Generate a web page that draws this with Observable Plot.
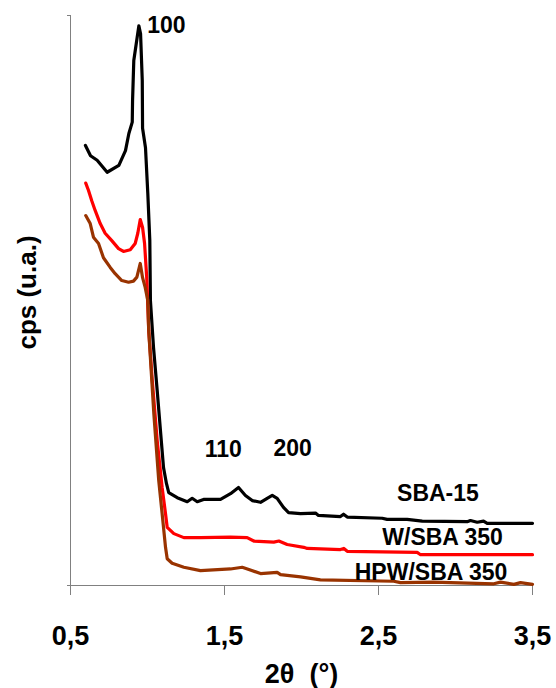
<!DOCTYPE html>
<html>
<head>
<meta charset="utf-8">
<script src="https://cdn.jsdelivr.net/npm/d3@7"></script>
<script src="https://cdn.jsdelivr.net/npm/@observablehq/plot@0.6"></script>
<style>
  html, body { margin: 0; padding: 0; background: #fff; }
  #chart { width: 556px; height: 688px; }
</style>
</head>
<body>
<div id="chart"></div>
<script>
// ---- Data ----
const seriesNames = ["SBA-15", "W/SBA 350", "HPW/SBA 350"];

const sbaX = [0.597,0.630,0.673,0.738,0.814,0.857,0.879,0.901,0.903,0.911,0.933,0.944,0.955,0.966,0.968,0.987,1.002,1.015,1.019,1.039,1.063,1.084,1.104,1.123,1.138,1.193,1.258,1.290,1.323,1.364,1.474,1.539,1.591,1.636,1.680,1.734,1.777,1.810,1.842,1.883,1.916,1.994,2.091,2.110,2.253,2.273,2.297,2.524,2.556,2.686,2.784,3.076,3.097,3.141,3.182,3.206,3.500];
const sbaY = [77.2,75.4,74.6,72.5,73.7,76.3,79.3,81.3,85.1,92.1,96.2,98.2,96.8,88.6,80.2,76.8,68.8,60.5,50.0,41.8,34.2,27.2,20.7,17.9,16.3,15.4,14.7,15.3,14.7,15.1,15.1,16.1,17.2,15.8,14.9,14.6,15.3,15.8,15.3,13.7,12.8,12.6,12.7,12.3,12.1,12.5,12.0,11.8,11.6,11.6,11.3,11.2,11.4,11.1,11.3,10.9,10.9];

const wX = [0.599,0.617,0.638,0.660,0.693,0.725,0.768,0.812,0.844,0.888,0.920,0.937,0.953,0.968,0.981,0.995,1.008,1.031,1.063,1.095,1.117,1.128,1.171,1.236,1.344,1.539,1.647,1.690,1.820,1.853,1.907,2.015,2.037,2.253,2.275,2.297,2.751,2.773,3.500];
const wY = [70.6,69.3,67.5,65.8,63.5,61.8,60.5,59.1,58.6,58.9,60.0,61.8,64.2,62.8,60.0,54.0,44.7,36.0,25.4,17.2,12.6,10.2,9.1,8.4,8.4,8.5,8.4,7.8,7.6,7.8,7.2,6.7,6.5,6.3,6.5,6.0,5.8,5.4,5.4];

const hpwX = [0.599,0.628,0.649,0.682,0.714,0.758,0.790,0.833,0.877,0.909,0.931,0.953,0.968,0.985,1.002,1.008,1.041,1.073,1.095,1.117,1.128,1.160,1.236,1.344,1.539,1.615,1.658,1.734,1.842,1.864,1.994,2.123,2.599,2.643,2.857,3.249,3.292,3.379,3.422,3.500];
const hpwY = [64.9,63.5,61.1,60.0,57.5,55.8,54.7,53.5,53.2,53.4,54.1,56.5,54.0,52.3,50.0,44.7,30.2,18.4,12.6,6.7,4.7,3.9,3.2,2.6,2.9,3.2,2.8,2.1,2.3,1.9,1.5,1.0,0.75,0.5,0.6,0.3,0.6,0.2,0.5,0.2];

const xTicks = [0.5, 1.5, 2.5, 3.5];
const xTickLabels = ["0,5", "1,5", "2,5", "3,5"];

const peakLabels = ["100", "110", "200"];
const peakX = [1.123, 1.492, 1.942];
const peakY = [97.0, 22.6, 22.8];

const seriesLabelX = [2.886, 2.916, 2.841];
const seriesLabelY = [14.9, 7.1, 1.0];

const xTitle = "2θ  (°)";
const yTitle = "cps (u.a.)";

// ---- Build ----
const colors = ["#000000", "#ff0000", "#993300"];
const lineSets = [[sbaX, sbaY], [wX, wY], [hpwX, hpwY]];

const font = "'Liberation Sans', Arial, Helvetica, sans-serif";
const axisColor = "#808080";

const lineMarks = lineSets.map(([xs, ys], i) =>
  Plot.line(xs.map((v, j) => ({x: v, y: ys[j]})), {
    x: "x", y: "y", stroke: colors[i], strokeWidth: 3.2, strokeLinejoin: "round", strokeLinecap: "round"
  })
);

const chart = Plot.plot({
  width: 556,
  height: 688,
  marginLeft: 70,
  marginRight: 24,
  marginTop: 15,
  marginBottom: 103,
  style: {fontFamily: font, fontWeight: "bold", color: "#000", background: "#fff"},
  x: {domain: [0.5, 3.5]},
  y: {domain: [0, 100]},
  marks: [
    Plot.ruleX([0.5], {stroke: axisColor, strokeWidth: 1}),
    Plot.ruleY([0], {stroke: axisColor, strokeWidth: 1, insetLeft: -3}),
    Plot.axisY({ticks: [100], tickSize: 3, tickFormat: () => "", label: null, stroke: axisColor}),
    Plot.axisX({
      ticks: xTicks,
      tickFormat: (d) => xTickLabels[xTicks.indexOf(d)],
      tickSize: 10, tickPadding: 30, fontSize: 27, fontWeight: "bold",
      label: null, stroke: axisColor, fill: "#000"
    }),
    ...lineMarks,
    Plot.text(peakLabels, {x: peakX, y: peakY, text: (d) => d, lineAnchor: "bottom", fontSize: 23, fontWeight: "bold", fill: "#000"}),
    Plot.text(seriesNames, {x: seriesLabelX, y: seriesLabelY, text: (d) => d, lineAnchor: "bottom", fontSize: 23, fontWeight: "bold", fill: "#000"}),
    Plot.text([xTitle], {frameAnchor: "bottom", dy: 97, lineAnchor: "bottom", fontSize: 27, fontWeight: "bold", fill: "#000"}),
    Plot.text([yTitle], {frameAnchor: "left", textAnchor: "middle", lineAnchor: "middle", rotate: -90, dx: -43, dy: -8, fontSize: 26, fontWeight: "bold", fill: "#000"})
  ]
});

document.getElementById("chart").appendChild(chart);
</script>
</body>
</html>
